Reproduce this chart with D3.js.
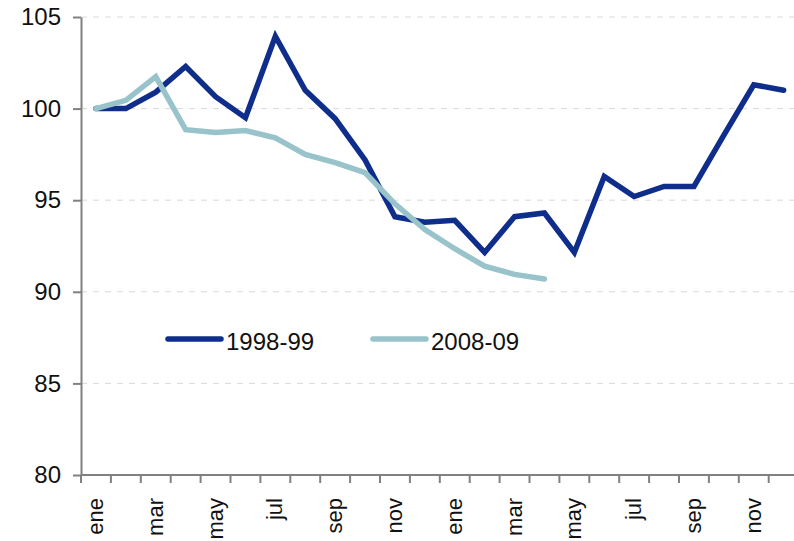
<!DOCTYPE html>
<html>
<head>
<meta charset="utf-8">
<script src="https://cdn.jsdelivr.net/npm/d3@7"></script>
<style>
  html, body { margin: 0; padding: 0; background: #fff; }
  svg { display: block; font-family: "Liberation Sans", Arial, sans-serif; }
</style>
</head>
<body>
<svg id="chart" width="794" height="541"></svg>
<script>
const months = ["ene","feb","mar","abr","may","jun","jul","ago","sep","oct","nov","dic",
                "ene","feb","mar","abr","may","jun","jul","ago","sep","oct","nov","dic"];
const series1998 = [100, 100, 100.9, 102.3, 100.65, 99.5, 103.95, 101.0, 99.45, 97.2, 94.1, 93.8,
                    93.9, 92.15, 94.1, 94.3, 92.15, 96.3, 95.2, 95.75, 95.75, 98.55, 101.3, 101.0];
const series2008 = [100, 100.45, 101.75, 98.85, 98.7, 98.8, 98.4, 97.5, 97.05, 96.5, 94.8, 93.4,
                    92.35, 91.4, 90.95, 90.7];
const yTicks = [80, 85, 90, 95, 100, 105];
const seriesNames = ["1998-99", "2008-09"];
const colors = ["#0f2d8b", "#99c3ca"];

const svg = d3.select("#chart");
const plotLeft = 81, plotTop = 17, plotBottom = 475, bandW = 29.9;

const idx = d3.range(months.length);
const x = d3.scaleBand().domain(idx).range([plotLeft, plotLeft + bandW * months.length]).padding(0);
const y = d3.scaleLinear().domain([80, 105]).range([plotBottom, plotTop]);

// grid
svg.append("g").selectAll("line")
  .data(yTicks.filter(d => d > 80))
  .join("line")
  .attr("x1", plotLeft).attr("x2", 794)
  .attr("y1", d => y(d)).attr("y2", d => y(d))
  .attr("stroke", "#d9d9d9").attr("stroke-width", 1)
  .attr("stroke-dasharray", "6,6");

// y axis
const yAxis = svg.append("g")
  .attr("transform", `translate(${plotLeft},0)`)
  .call(d3.axisLeft(y).tickValues(yTicks).tickSize(8).tickSizeOuter(0).tickPadding(12));
yAxis.select(".domain").attr("stroke", "#808080").attr("stroke-width", 2);
yAxis.selectAll(".tick line").attr("stroke", "#808080").attr("stroke-width", 2);
yAxis.selectAll("text").attr("font-size", 24).attr("fill", "#111")
  .attr("font-family", "Liberation Sans, Arial, sans-serif");

// x axis
const xAxis = svg.append("g")
  .attr("transform", `translate(0,${plotBottom})`)
  .call(d3.axisBottom(x).tickSize(8).tickSizeOuter(0).tickPadding(12)
    .tickFormat(i => i % 2 === 0 ? months[i] : ""));
xAxis.select(".domain").attr("stroke", "#808080").attr("stroke-width", 2)
  .attr("d", `M${plotLeft},0H794`);
xAxis.selectAll(".tick line")
  .attr("stroke", "#808080").attr("stroke-width", 2)
  .attr("x1", -bandW / 2).attr("x2", -bandW / 2);
xAxis.selectAll("text")
  .attr("font-size", 22).attr("fill", "#111")
  .attr("font-family", "Liberation Sans, Arial, sans-serif")
  .attr("text-anchor", "end")
  .attr("transform", "rotate(-90)")
  .attr("x", -23).attr("y", 0).attr("dy", "0.32em");

// lines
const line = d3.line()
  .x((d, i) => x(i) + x.bandwidth() / 2)
  .y(d => y(d));

[series1998, series2008].forEach((s, k) => {
  svg.append("path")
    .datum(s)
    .attr("d", line)
    .attr("fill", "none")
    .attr("stroke", colors[k])
    .attr("stroke-width", 5.5)
    .attr("stroke-linecap", "round");
});

// legend
const legendX = [168, 373];
seriesNames.forEach((name, k) => {
  const g = svg.append("g").attr("transform", `translate(${legendX[k]},339)`);
  g.append("line").attr("x1", 0).attr("x2", 53).attr("y1", 0).attr("y2", 0)
    .attr("stroke", colors[k]).attr("stroke-width", 5.5).attr("stroke-linecap", "round");
  g.append("text").attr("x", 58).attr("y", 11)
    .attr("font-size", 24).attr("fill", "#111").text(name);
});
</script>
</body>
</html>
